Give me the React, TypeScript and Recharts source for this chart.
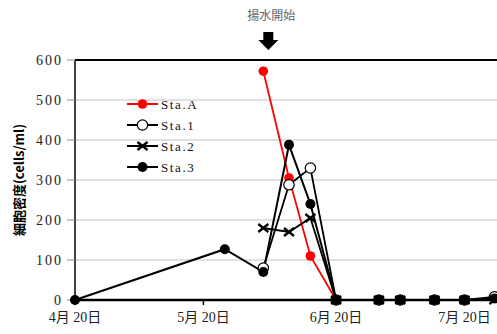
import {
  CartesianGrid,
  Line,
  LineChart,
  ReferenceDot,
  ReferenceLine,
  XAxis,
  YAxis,
} from "recharts";

// days counted from 4/20
const days = [0, 35, 44, 50, 55, 61, 71, 76, 84, 91, 98];
const staA = [null, null, 572, 305, 110, 0, null, null, null, null, null];
const sta1 = [null, null, 80, 288, 330, 0, 0, 0, 0, 0, 8];
const sta2 = [null, null, 180, 170, 205, 0, 0, 0, 0, 0, 0];
const sta3 = [0, 127, 70, 388, 240, 0, 0, 0, 0, 0, 4];

const xTicks = [0, 30, 61, 91];
const xTickLabels = ["4月 20日", "5月 20日", "6月 20日", "7月 20日"];
const yTicks = [0, 100, 200, 300, 400, 500, 600];
const pumpStartDay = 44;

const data = days.map((d, i) => ({ d, a: staA[i], s1: sta1[i], s2: sta2[i], s3: sta3[i] }));

const SERIF = "'Liberation Serif', 'DejaVu Serif', 'Noto Sans CJK JP', serif";

type DotProps = { cx?: number; cy?: number; value?: number | null };

const RedDot = ({ cx, cy }: DotProps) =>
  cx == null || cy == null ? null : <circle cx={cx} cy={cy} r={4.8} fill="#ff0000" stroke="none" />;
const OpenDot = ({ cx, cy }: DotProps) =>
  cx == null || cy == null ? null : (
    <circle cx={cx} cy={cy} r={5.2} fill="#fff" stroke="#000" strokeWidth={1.2} />
  );
const CrossDot = ({ cx, cy }: DotProps) =>
  cx == null || cy == null ? null : (
    <g stroke="#000" strokeWidth={2.4}>
      <line x1={cx - 5} y1={cy - 4} x2={cx + 5} y2={cy + 4} />
      <line x1={cx - 5} y1={cy + 4} x2={cx + 5} y2={cy - 4} />
    </g>
  );
const BlackDot = ({ cx, cy }: DotProps) =>
  cx == null || cy == null ? null : <circle cx={cx} cy={cy} r={5} fill="#000" stroke="none" />;

const series = [
  { key: "a", name: "Sta.A", color: "#ff0000", width: 1.8, Dot: RedDot },
  { key: "s1", name: "Sta.1", color: "#000", width: 1.8, Dot: OpenDot },
  { key: "s2", name: "Sta.2", color: "#000", width: 1.8, Dot: CrossDot },
  { key: "s3", name: "Sta.3", color: "#000", width: 2, Dot: BlackDot },
];

const LegendBox = () => (
  <svg width={110} height={90} style={{ position: "absolute", left: 125, top: 95 }}>
    {series.map((s, i) => {
      const y = 9 + i * 21;
      const { Dot } = s;
      return (
        <g key={s.key}>
          <line x1={2} y1={y} x2={33} y2={y} stroke={s.color} strokeWidth={2} />
          <Dot cx={17.5} cy={y} />
          <text x={36} y={y + 4.5} fontSize={13} fontFamily={SERIF} letterSpacing={1.6} fill="#111">
            {s.name}
          </text>
        </g>
      );
    })}
  </svg>
);

const XTick = ({ x, y, index }: { x?: number; y?: number; index?: number }) => (
  <text x={x} y={(y ?? 0) + 15} textAnchor="middle" fontSize={14} fontFamily={SERIF} fill="#222">
    {xTickLabels[index ?? 0]}
  </text>
);

const PumpMarker = ({ cx, cy }: { cx?: number; cy?: number }) => {
  if (cx == null || cy == null) return null;
  const x = cx + 5;
  return (
    <g>
      <text
        x={x + 3}
        y={cy - 40}
        textAnchor="middle"
        fontSize={12}
        fontFamily="'Noto Sans CJK JP', sans-serif"
        fill="#666"
      >
        揚水開始
      </text>
      <polygon
        points={`${x - 5},${cy - 28} ${x + 5},${cy - 28} ${x + 5},${cy - 20} ${x + 10},${cy - 20} ${x},${cy - 10} ${x - 10},${cy - 20} ${x - 5},${cy - 20}`}
        fill="#000"
      />
    </g>
  );
};

export default function App() {
  return (
    <div style={{ position: "absolute", left: 0, top: 0, width: 497, height: 334, overflow: "hidden", background: "#fff" }}>
      <LineChart width={505} height={334} data={data} margin={{ top: 60, right: 2, bottom: 4, left: 30 }}>
        <CartesianGrid vertical={false} stroke="#c4c4c4" strokeWidth={1.2} />
        <XAxis
          dataKey="d"
          type="number"
          domain={[0, 100]}
          ticks={xTicks}
          tick={<XTick />}
          tickSize={5}
          height={30}
          interval={0}
          axisLine={{ stroke: "#000", strokeWidth: 2.4 }}
          tickLine={{ stroke: "#000", strokeWidth: 1.5 }}
        />
        <YAxis
          domain={[0, 600]}
          ticks={yTicks}
          width={45}
          tickSize={8}
          tickMargin={4}
          tick={{ fill: "#222", fontSize: 14, fontFamily: SERIF, letterSpacing: 2 }}
          axisLine={{ stroke: "#000", strokeWidth: 1.5 }}
          tickLine={{ stroke: "#888", strokeWidth: 1 }}
          label={({ viewBox }: any) => (
            <text
              x={viewBox.x - 12}
              y={viewBox.y + viewBox.height / 2}
              transform={`rotate(-90 ${viewBox.x - 12} ${viewBox.y + viewBox.height / 2})`}
              textAnchor="middle"
              dominantBaseline="central"
              fontSize={13}
              fontWeight="bold"
              fontFamily="'Noto Sans CJK JP', sans-serif"
              fill="#000"
            >
              細胞密度(cells/ml)
            </text>
          )}
        />
        <ReferenceLine y={600} stroke="#000" strokeWidth={2} />
        {series.map((s) => (
          <Line
            key={s.key}
            dataKey={s.key}
            name={s.name}
            stroke={s.color}
            strokeWidth={s.width}
            dot={<s.Dot />}
            activeDot={false}
            isAnimationActive={false}
          />
        ))}
        <ReferenceDot x={pumpStartDay} y={600} ifOverflow="visible" shape={<PumpMarker />} />
      </LineChart>
      <LegendBox />
    </div>
  );
}
